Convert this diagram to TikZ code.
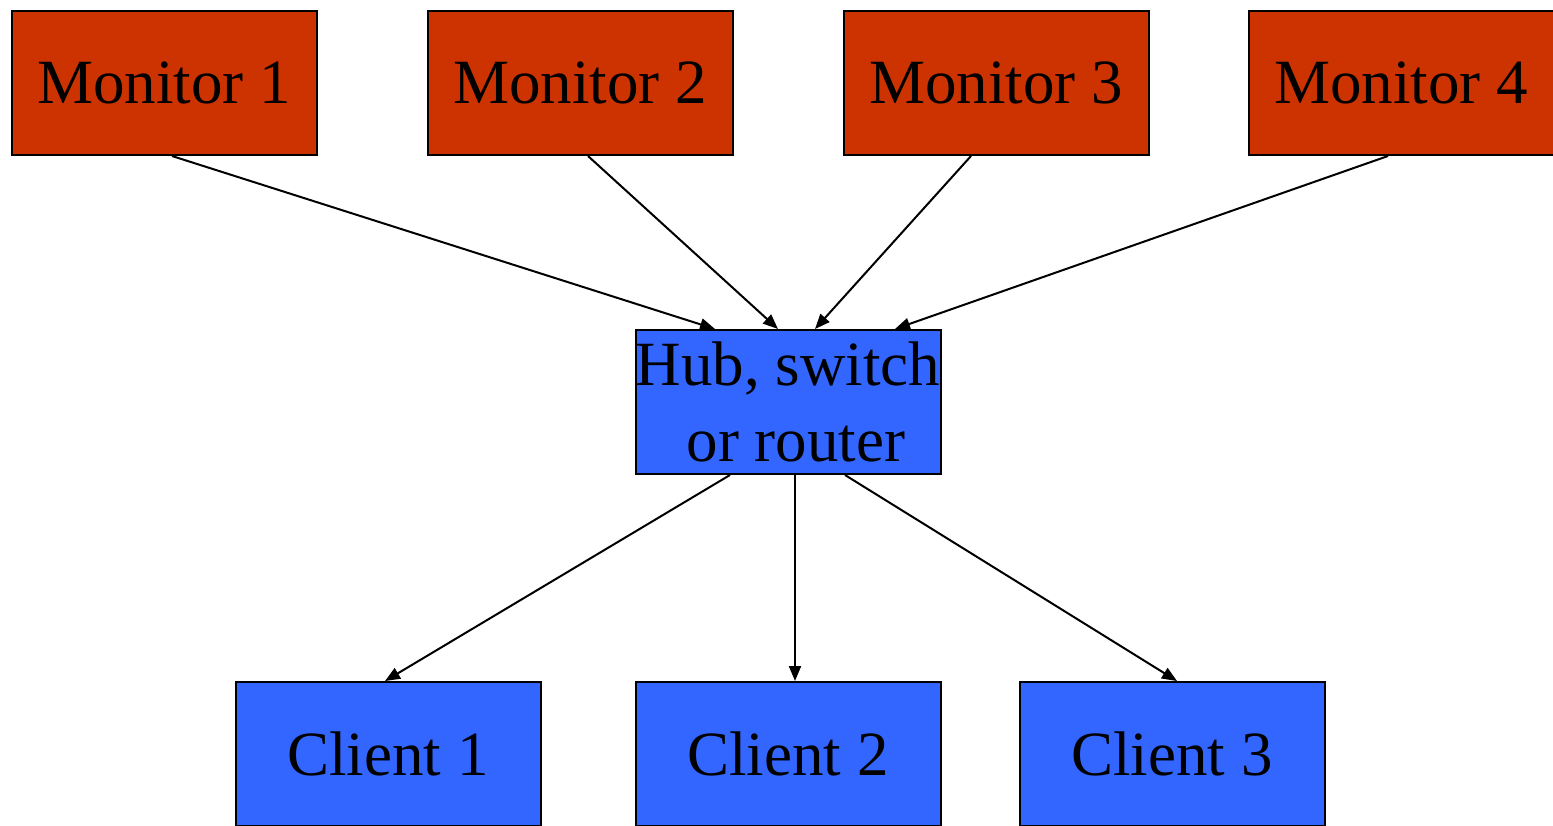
\documentclass[tikz,border=0pt]{standalone}
\usepackage{fontspec}
\setmainfont{Liberation Serif}
\usetikzlibrary{arrows.meta}
\definecolor{monred}{HTML}{CC3300}
\definecolor{netblue}{HTML}{3366FF}
\begin{document}
\begin{tikzpicture}[x=0.5pt,y=-0.5pt,
    box/.style={draw=black,line width=1pt,minimum width=152.5pt,minimum height=72pt,
      inner sep=0pt,align=center,font=\fontsize{31.5}{38}\selectfont},
    mon/.style={box,fill=monred},
    net/.style={box,fill=netblue},
    link/.style={line width=1pt,-{Triangle[length=7.5pt,width=6pt]}}]
    \useasboundingbox (0,0) rectangle (1553,825);
    \node[mon] (m1) at (164,83) {Monitor 1};
    \node[mon] (m2) at (580,83) {Monitor 2};
    \node[mon] (m3) at (996,83) {Monitor 3};
    \node[mon] (m4) at (1401,83) {Monitor 4};
    \node[net] (hub) at (788,402) {Hub, switch\\\mbox{}\ or router};
    \node[net] (c1) at (388,754) {Client 1};
    \node[net] (c2) at (788,754) {Client 2};
    \node[net] (c3) at (1172,754) {Client 3};
    \draw[link] ([xshift=4pt]m1.south) -- ([xshift=-36.5pt]hub.north);
    \draw[link] ([xshift=4pt]m2.south) -- ([xshift=-5pt]hub.north);
    \draw[link] ([xshift=-12.5pt]m3.south) -- ([xshift=13.5pt]hub.north);
    \draw[link] ([xshift=-6.5pt]m4.south) -- ([xshift=53.5pt]hub.north);
    \draw[link] ([xshift=-29pt]hub.south) -- ([xshift=-1.5pt]c1.north);
    \draw[link] ([xshift=3.5pt]hub.south) -- ([xshift=3.5pt]c2.north);
    \draw[link] ([xshift=28.5pt]hub.south) -- ([xshift=2.5pt]c3.north);
  \end{tikzpicture}
\end{document}
